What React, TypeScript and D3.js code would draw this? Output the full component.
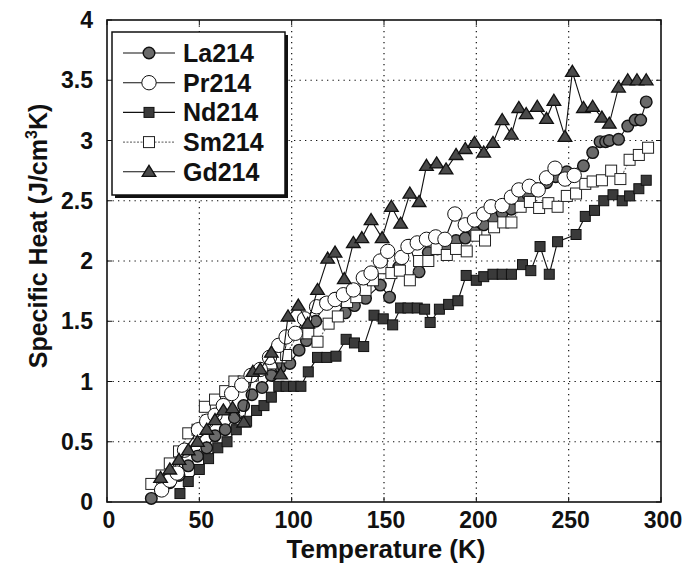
import React from "react";
import * as d3 from "d3";

const xTicks = [0, 50, 100, 150, 200, 250, 300];
const yTicks = [0, 0.5, 1, 1.5, 2, 2.5, 3, 3.5, 4];
const yTickLabels = ["0", "0.5", "1", "1.5", "2", "2.5", "3", "3.5", "4"];

const la214: [number, number][] = [
  [24, 0.03], [29, 0.1], [34, 0.16], [39, 0.22], [44, 0.3], [49, 0.38], [54, 0.45], [58.5, 0.55],
  [64, 0.6], [69, 0.7], [74, 0.8], [78.5, 0.89], [84, 0.95], [89, 1.05], [94, 1.12], [99, 1.15],
  [104, 1.26], [108, 1.34], [113, 1.5], [118, 1.65], [123.5, 1.69], [129, 1.57], [134, 1.63],
  [140, 1.69], [148, 1.8], [153, 1.7], [158, 1.95], [163.7, 2.13], [169, 1.91], [174, 2.07],
  [179, 2.1], [184, 2.12], [189, 2.17], [194, 2.19], [199, 2.24], [204, 2.3], [209, 2.36],
  [214, 2.4], [219, 2.43], [224, 2.5], [228, 2.55], [233, 2.6], [238, 2.65], [243, 2.7],
  [249, 2.74], [258, 2.79], [263, 2.9], [267, 2.99], [270, 2.99], [272, 3.0], [277, 3.01],
  [282, 3.12], [286, 3.17], [289, 3.17], [292, 3.32],
];

const pr214: [number, number][] = [
  [29.6, 0.1], [34, 0.18], [38, 0.24], [42, 0.43], [49.5, 0.6], [54, 0.67], [58.5, 0.72],
  [63, 0.8], [67.5, 0.9], [73, 0.97], [78, 1.05], [83, 1.1], [88, 1.2], [93, 1.3], [97, 1.37],
  [102, 1.4], [107, 1.52], [113.5, 1.62], [119, 1.65], [123.5, 1.68], [128, 1.72], [133.4, 1.76],
  [138.8, 1.86], [143, 1.9], [148, 2.0], [152, 2.08], [159.6, 2.03], [163, 2.12], [168, 2.15],
  [173, 2.18], [178, 2.2], [183, 2.18], [188.4, 2.39], [194, 2.3], [199, 2.34], [204, 2.39],
  [208, 2.45], [214, 2.46], [219, 2.53], [223, 2.59], [228.7, 2.62], [233.5, 2.59], [238, 2.69],
  [242.6, 2.77], [248, 2.68], [253, 2.71],
];

const nd214: [number, number][] = [
  [39.5, 0.07], [44, 0.17], [50, 0.27], [55, 0.36], [60, 0.45], [65, 0.5], [70, 0.6],
  [75.6, 0.67], [81, 0.76], [85, 0.8], [89, 0.87], [93, 0.96], [97, 0.96], [101, 0.96],
  [105, 0.96], [109, 1.08], [114, 1.2], [119, 1.2], [124, 1.21], [129.5, 1.35], [134, 1.32],
  [139, 1.29], [144.6, 1.55], [149.6, 1.52], [154.7, 1.47], [159, 1.61], [163, 1.61],
  [168, 1.61], [172, 1.6], [175, 1.49], [180, 1.6], [185, 1.64], [190, 1.67], [194.5, 1.88],
  [200, 1.84], [204, 1.87], [209, 1.89], [214, 1.89], [219, 1.89], [225, 1.97], [229.5, 1.92],
  [234.5, 2.12], [239.5, 1.89], [244, 2.16], [254, 2.22], [259, 2.37], [264, 2.42],
  [269, 2.5], [274, 2.55], [279, 2.5], [283, 2.54], [288, 2.6], [292, 2.67],
];

const sm214: [number, number][] = [
  [24, 0.15], [29.6, 0.22], [34, 0.32], [39, 0.42], [44, 0.57], [49, 0.6], [53, 0.79],
  [58.5, 0.85], [64, 0.92], [69, 1.0], [74, 1.0], [79, 1.05], [84, 1.1], [89, 1.15],
  [94, 1.2], [97, 1.22], [103.6, 1.4], [109, 1.4], [114, 1.33], [120, 1.48], [125, 1.54],
  [130, 1.66], [135, 1.7], [140, 1.76], [144, 1.84], [148.7, 1.94], [154, 1.9], [158.6, 1.92],
  [164, 1.84], [169, 2.0], [174, 2.0], [178.5, 2.1], [184, 2.05], [189, 2.1], [194.8, 2.08],
  [200, 2.21], [204.7, 2.17], [209.6, 2.28], [214.6, 2.32], [219, 2.32], [224, 2.45],
  [229, 2.49], [234, 2.44], [239, 2.48], [244, 2.45], [249, 2.54], [254, 2.56], [259, 2.64],
  [263, 2.66], [268, 2.67], [273, 2.75], [278, 2.68], [283, 2.84], [288, 2.88], [293, 2.94],
];

const gd214: [number, number][] = [
  [29, 0.2], [34, 0.27], [39, 0.35], [44, 0.43], [49, 0.5], [54, 0.6], [58.5, 0.68],
  [63, 0.76], [68, 0.78], [74, 0.66], [79, 1.08], [83, 1.1], [89, 1.24], [94, 1.06],
  [98, 1.54], [103.6, 1.63], [108.7, 1.48], [114, 1.76], [119.5, 2.02], [123.5, 2.07],
  [128.5, 1.85], [133.4, 2.15], [138, 2.19], [143, 2.34], [149, 2.19], [154, 2.45],
  [159, 2.31], [164, 2.56], [169, 2.49], [173, 2.79], [178.5, 2.81], [183.6, 2.76],
  [189, 2.88], [194, 2.93], [199, 2.98], [204, 2.9], [209, 2.98], [214, 3.17], [219, 3.05],
  [223, 3.27], [227, 3.22], [233, 3.28], [238, 3.18], [242, 3.33], [248, 3.03], [252, 3.57],
  [258, 3.27], [263, 3.28], [268, 3.19], [272, 3.14], [277, 3.44], [282, 3.5], [287, 3.5],
  [292, 3.5],
];

const seriesNames = ["La214", "Pr214", "Nd214", "Sm214", "Gd214"];

const W = 699;
const H = 571;
const left = 107;
const right = 661;
const top = 20;
const bottom = 502;

const x = d3.scaleLinear().domain([0, 300]).range([left, right]);
const y = d3.scaleLinear().domain([0, 4]).range([bottom, top]);
const line = d3.line<[number, number]>().x((d) => x(d[0])).y((d) => y(d[1]));

type Kind = "la" | "pr" | "nd" | "sm" | "gd";

function Marker({ kind, cx, cy }: { kind: Kind; cx: number; cy: number }) {
  switch (kind) {
    case "la":
      return <circle cx={cx} cy={cy} r={5.8} fill="#6a6a6a" stroke="#111" strokeWidth={1.4} />;
    case "pr":
      return <circle cx={cx} cy={cy} r={7.2} fill="#fff" stroke="#111" strokeWidth={1} />;
    case "nd":
      return <rect x={cx - 5} y={cy - 5} width={10} height={10} fill="#3a3a3a" stroke="#111" strokeWidth={1} />;
    case "sm":
      return <rect x={cx - 5.5} y={cy - 5.5} width={11} height={11} fill="#fff" stroke="#222" strokeWidth={1} />;
    case "gd": {
      const s = 6.5;
      const p = `M${cx},${cy - s}L${cx + s * 1.05},${cy + s * 0.7}L${cx - s * 1.05},${cy + s * 0.7}Z`;
      return <path d={p} fill="#4a4a4a" stroke="#111" strokeWidth={1.3} />;
    }
  }
}

const seriesList: { kind: Kind; data: [number, number][]; stroke: string; dash?: string }[] = [
  { kind: "nd", data: nd214, stroke: "#111" },
  { kind: "la", data: la214, stroke: "#111" },
  { kind: "sm", data: sm214, stroke: "#666", dash: "2,1.5" },
  { kind: "pr", data: pr214, stroke: "#111" },
  { kind: "gd", data: gd214, stroke: "#111" },
];

const legendKinds: Kind[] = ["la", "pr", "nd", "sm", "gd"];
const legendStroke = ["#111", "#111", "#111", "#777", "#111"];

export default function App() {
  const font = "'Liberation Sans', Arial, sans-serif";
  return (
    <svg width={W} height={H} style={{ position: "absolute", left: 0, top: 0, background: "#fff" }}>
      <rect width={W} height={H} fill="#fff" />
      {/* grid */}
      {xTicks.slice(1, -1).map((t) => (
        <line key={"gx" + t} x1={x(t)} x2={x(t)} y1={top} y2={bottom} stroke="#111" strokeWidth={1.2} strokeDasharray="1.3,4.2" />
      ))}
      {yTicks.slice(1, -1).map((t) => (
        <line key={"gy" + t} x1={left} x2={right} y1={y(t)} y2={y(t)} stroke="#111" strokeWidth={1.2} strokeDasharray="1.3,4.2" />
      ))}
      {/* ticks */}
      {xTicks.map((t) => (
        <g key={"tx" + t}>
          <line x1={x(t)} x2={x(t)} y1={bottom} y2={bottom - 5} stroke="#111" strokeWidth={1} />
          <line x1={x(t)} x2={x(t)} y1={top} y2={top + 5} stroke="#111" strokeWidth={1} />
          <text x={x(t) + 2} y={528} textAnchor="middle" fontFamily={font} fontWeight="bold" fontSize={23} fill="#111">
            {t}
          </text>
        </g>
      ))}
      {yTicks.map((t, i) => (
        <g key={"ty" + t}>
          <line x1={left} x2={left + 5} y1={y(t)} y2={y(t)} stroke="#111" strokeWidth={1} />
          <line x1={right} x2={right - 5} y1={y(t)} y2={y(t)} stroke="#111" strokeWidth={1} />
          <text x={93} y={y(t) + 8} textAnchor="end" fontFamily={font} fontWeight="bold" fontSize={23} fill="#111">
            {yTickLabels[i]}
          </text>
        </g>
      ))}
      {/* frame */}
      <rect x={left} y={top} width={right - left} height={bottom - top} fill="none" stroke="#111" strokeWidth={1.6} />
      {/* series */}
      {seriesList.map((s) => (
        <g key={s.kind}>
          <path d={line(s.data) || ""} fill="none" stroke={s.stroke} strokeWidth={1.1} strokeDasharray={s.dash} />
          {s.data.map((d, i) => (
            <Marker key={i} kind={s.kind} cx={x(d[0])} cy={y(d[1])} />
          ))}
        </g>
      ))}
      {/* legend */}
      <rect x={115} y={35} width={173} height={163} fill="#111" />
      <rect x={112} y={32} width={173} height={163} fill="#fff" stroke="#111" strokeWidth={1.5} />
      {seriesNames.map((n, i) => {
        const ly = 53 + i * 29.7;
        return (
          <g key={n}>
            <line x1={123} x2={175} y1={ly} y2={ly} stroke={legendStroke[i]} strokeWidth={1.1} strokeDasharray={i === 3 ? "2,1.5" : undefined} />
            <Marker kind={legendKinds[i]} cx={149} cy={ly} />
            <text x={183} y={ly + 9} fontFamily={font} fontWeight="bold" fontSize={25} fill="#111">
              {n}
            </text>
          </g>
        );
      })}
      {/* axis titles */}
      <text x={386} y={558} textAnchor="middle" fontFamily={font} fontWeight="bold" fontSize={26} fill="#111">
        Temperature (K)
      </text>
      <text transform="translate(47,236) rotate(-90)" textAnchor="middle" fontFamily={font} fontWeight="bold" fontSize={25} fill="#111">
        Specific Heat (J/cm<tspan fontSize={16} dy={-10}>3</tspan><tspan dy={10}>K)</tspan>
      </text>
    </svg>
  );
}
